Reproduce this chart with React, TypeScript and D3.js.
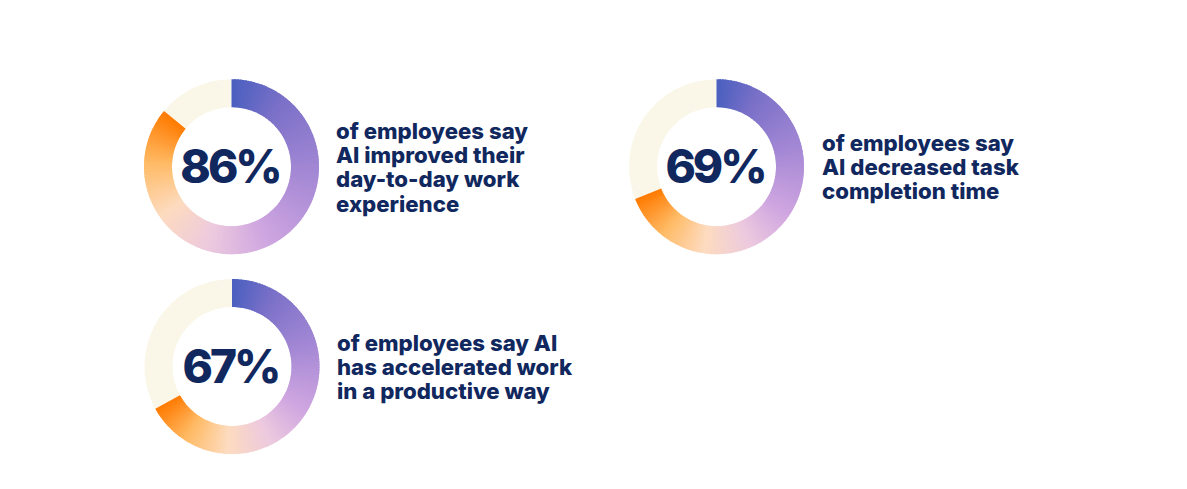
import React, { useEffect, useRef } from "react";
import * as d3 from "d3";

const percents = [86, 69, 67];
const captions = [
  ["of employees say", "AI improved their", "day-to-day work", "experience"],
  ["of employees say", "AI decreased task", "completion time"],
  ["of employees say AI", "has accelerated work", "in a productive way"],
];
const gradientStops = [
  { t: 0, c: "#4a5fbf" },
  { t: 0.12, c: "#7a70c8" },
  { t: 0.33, c: "#a98bd6" },
  { t: 0.5, c: "#cfa6e0" },
  { t: 0.63, c: "#ecc9df" },
  { t: 0.76, c: "#fddbbf" },
  { t: 0.88, c: "#ffbb66" },
  { t: 1, c: "#ff7a00" },
];

const W = 1187;
const H = 489;
const layout = [
  { cx: 231.5, cy: 166.7, tx: 336, ty: 138.5, lh: 24.4 },
  { cx: 716.5, cy: 166.7, tx: 822, ty: 151, lh: 24.2 },
  { cx: 232, cy: 366.5, tx: 337, ty: 351, lh: 24.2 },
];
const R_OUT = 87.5;
const R_IN = 59.5;
const NAVY = "#11285f";
const CREAM = "#faf7e9";
const NUM_LS = -3;

export default function App() {
  const ref = useRef<SVGSVGElement>(null);
  useEffect(() => {
    const svg = d3.select(ref.current);
    svg.selectAll("*").remove();
    const colorScale = d3
      .scaleLinear<string>()
      .domain(gradientStops.map((s) => s.t))
      .range(gradientStops.map((s) => s.c))
      .interpolate(d3.interpolateRgb);
    const angle = d3.scaleLinear().domain([0, 100]).range([0, 2 * Math.PI]);
    const arc = d3.arc<any>().innerRadius(R_IN).outerRadius(R_OUT);

    percents.forEach((p, i) => {
      const L = layout[i];
      const g = svg.append("g").attr("transform", `translate(${L.cx},${L.cy})`);
      const end = angle(p);
      g.append("path")
        .attr("d", arc({ startAngle: end, endAngle: 2 * Math.PI }) as string)
        .attr("fill", CREAM);
      const N = Math.ceil(p * 2);
      const segs = d3.range(N).map((k) => ({
        a0: (k / N) * end,
        a1: Math.min(end, ((k + 1) / N) * end + 0.02),
        t: (k + 0.5) / N,
      }));
      g.selectAll("path.seg")
        .data(segs)
        .join("path")
        .attr("class", "seg")
        .attr("d", (d) => arc({ startAngle: d.a0, endAngle: d.a1 }) as string)
        .attr("fill", (d) => colorScale(d.t));
      g.append("text")
        .attr("x", NUM_LS / 2)
        .attr("y", 16)
        .attr("text-anchor", "middle")
        .attr("font-family", "Inter, 'Liberation Sans', Arial, sans-serif")
        .attr("font-weight", 800)
        .attr("font-size", 46)
        .attr("letter-spacing", NUM_LS)
        .attr("fill", NAVY)
        .text(`${p}%`);
      const t = svg
        .append("text")
        .attr("font-family", "Inter, 'Liberation Sans', Arial, sans-serif")
        .attr("font-weight", 800)
        .attr("font-size", 22.2)
        .attr("letter-spacing", 0)
        .attr("fill", NAVY);
      captions[i].forEach((line, j) => {
        t.append("tspan").attr("x", L.tx).attr("y", L.ty + j * L.lh).text(line);
      });
    });
  }, []);
  return (
    <svg
      ref={ref}
      width={W}
      height={H}
      style={{ position: "absolute", left: 0, top: 0, background: "#fff" }}
    />
  );
}
